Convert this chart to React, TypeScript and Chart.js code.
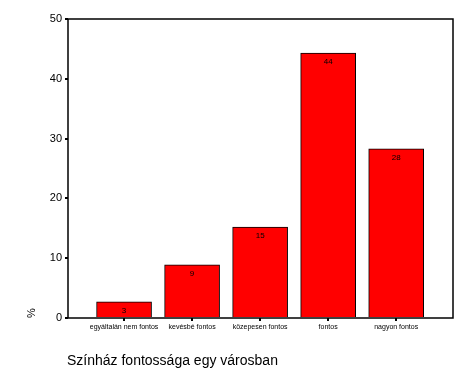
import React, { useEffect, useRef } from "react";
import { Chart, registerables } from "chart.js";

Chart.register(...registerables);

const categories = ["egyáltalán nem fontos", "kevésbé fontos", "közepesen fontos", "fontos", "nagyon fontos"];
const values = [2.7, 8.9, 15.2, 44.3, 28.3];
const valueLabels = ["3", "9", "15", "44", "28"];
const yTicks = [0, 10, 20, 30, 40, 50];
const chartTitle = "Színház fontossága egy városban";
const yAxisLabel = "%";

export default function App() {
  const ref = useRef<HTMLCanvasElement>(null);
  useEffect(() => {
    document.body.style.margin = "0";
    const canvas = ref.current!;
    const extras = {
      id: "extras",
      afterDatasetsDraw(chart: any) {
        const { ctx, chartArea } = chart;
        ctx.save();
        ctx.strokeStyle = "#000";
        ctx.lineWidth = 1.5;
        ctx.strokeRect(chartArea.left, chartArea.top, chartArea.right - chartArea.left, chartArea.bottom - chartArea.top);
        const meta = chart.getDatasetMeta(0);
        ctx.fillStyle = "#000";
        ctx.font = "8px Arial, 'Liberation Sans'";
        ctx.textAlign = "center";
        ctx.textBaseline = "middle";
        meta.data.forEach((el: any, i: number) => {
          ctx.fillText(valueLabels[i], el.x, el.y + 9);
        });
        ctx.font = "14px Arial, 'Liberation Sans'";
        ctx.textAlign = "left";
        ctx.fillText(chartTitle, 67, 361);
        ctx.translate(32, 313);
        ctx.rotate(-Math.PI / 2);
        ctx.textAlign = "center";
        ctx.font = "11px Arial, 'Liberation Sans'";
        ctx.fillText(yAxisLabel, 0, 0);
        ctx.restore();
      },
    };
    const chart = new Chart(canvas, {
      type: "bar",
      data: {
        datasets: [
          {
            data: values.map((v, i) => ({ x: i, y: v })),
            backgroundColor: "#FF0000",
            borderColor: "#000",
            borderWidth: 1,
            barThickness: 55,
          },
        ],
      },
      options: {
        animation: false,
        responsive: false,
        layout: { padding: { left: 0, right: 18, top: 19, bottom: 0 } },
        plugins: { legend: { display: false }, tooltip: { enabled: false } },
        scales: {
          x: {
            type: "linear",
            min: -0.824,
            max: 4.835,
            offset: false,
            afterBuildTicks: (s: any) => {
              s.ticks = categories.map((_, i) => ({ value: i }));
            },
            afterFit: (s: any) => {
              s.height = 59;
            },
            ticks: {
              autoSkip: false,
              maxRotation: 0,
              padding: 2,
              color: "#000",
              font: { size: 7, family: "Arial, 'Liberation Sans'" },
              callback: (v: any) => categories[v as number] ?? "",
            },
            grid: { display: true, offset: false, drawOnChartArea: false, drawTicks: true, tickLength: 3, color: "#000", lineWidth: 2 },
            border: { display: false },
          },
          y: {
            min: 0,
            max: 50,
            afterBuildTicks: (s: any) => {
              s.ticks = yTicks.map((v) => ({ value: v }));
            },
            afterFit: (s: any) => {
              s.width = 68;
            },
            ticks: {
              padding: 3,
              color: "#000",
              font: { size: 11, family: "Arial, 'Liberation Sans'" },
            },
            grid: { display: true, drawOnChartArea: false, drawTicks: true, tickLength: 3, color: "#000", lineWidth: 2 },
            border: { display: false },
          },
        },
      },
      plugins: [extras],
    });
    return () => chart.destroy();
  }, []);
  return <canvas ref={ref} width={471} height={377} style={{ display: "block", width: 471, height: 377 }} />;
}
